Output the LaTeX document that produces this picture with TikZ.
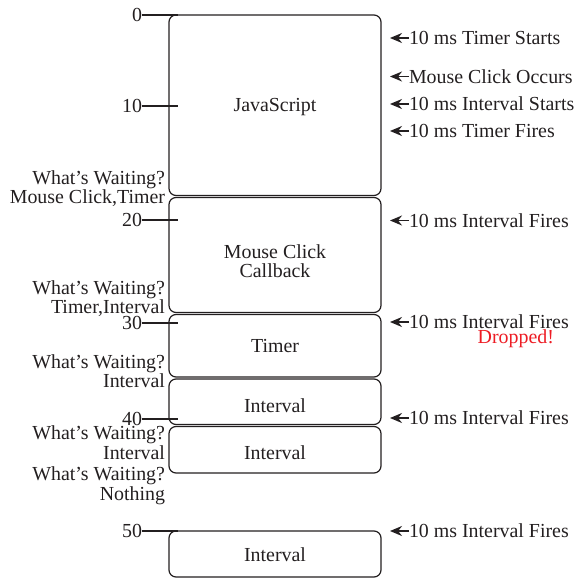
\documentclass[tikz,border=0pt]{standalone}
\usepackage{fontspec}
\setmainfont{Liberation Serif}
\usetikzlibrary{arrows.meta}
\definecolor{ink}{HTML}{231F20}
\definecolor{alert}{HTML}{ED1C24}
\begin{document}
\begin{tikzpicture}[x=1pt,y=-1pt,
  every node/.style={font=\fontsize{19.9}{19.9}\selectfont, text=ink, inner sep=0pt, outer sep=0pt},
  slot/.style={draw=ink, line width=1.2pt, rounded corners=7pt},
  tickmark/.style={draw=ink, line width=1.9pt},
  event/.style={draw=ink, line width=1.6pt, -{Stealth[length=12pt,width=10pt]}},
  waitnote/.style={anchor=base east},
  boxlabel/.style={anchor=base},
  evlabel/.style={anchor=west}]
\useasboundingbox (0,0) rectangle (576,578);

% execution slots on the single thread
\path[slot] (169,15)    rectangle (381,195.5);
\path[slot] (169,197.5) rectangle (381,312.5);
\path[slot] (169,314.5) rectangle (381,377);
\path[slot] (169,379)   rectangle (381,424.5);
\path[slot] (169,426.5) rectangle (381,473);
\path[slot] (169,531)   rectangle (381,577);

\node[boxlabel] (js)   at (275,111) {JavaScript};
\node[boxlabel] (mc1)  at (275,258) {Mouse Click};
\node[boxlabel] (mc2)  at (275,277) {Callback};
\node[boxlabel] (tm)   at (275,352) {Timer};
\node[boxlabel] (iv1)  at (275,412) {Interval};
\node[boxlabel] (iv2)  at (275,459) {Interval};
\node[boxlabel] (iv3)  at (275,561) {Interval};

% time axis ticks (ms)
\foreach \t/\y in {0/15, 10/106, 20/220, 30/323, 40/419, 50/531}{
  \node[anchor=east] (t\t) at (142,\y) {\t};
  \draw[tickmark] (t\t.east) -- ++(36,0);
}

% queue contents at each hand-over
\node[waitnote] (w1a) at (165,184.3) {What’s Waiting?};
\node[waitnote] (w1b) at (165,203)   {Mouse Click,Timer};
\node[waitnote] (w2a) at (165,294)   {What’s Waiting?};
\node[waitnote] (w2b) at (165,313.3) {Timer,Interval};
\node[waitnote] (w3a) at (165,368)   {What’s Waiting?};
\node[waitnote] (w3b) at (165,387)   {Interval};
\node[waitnote] (w4a) at (165,439.5) {What’s Waiting?};
\node[waitnote] (w4b) at (165,459.3) {Interval};
\node[waitnote] (w5a) at (165,480.5) {What’s Waiting?};
\node[waitnote] (w5b) at (165,500)   {Nothing};

% incoming events
\foreach \n/\y/\txt in {
  e1/38/{10 ms Timer Starts},
  e2/76.5/{Mouse Click Occurs},
  e3/104/{10 ms Interval Starts},
  e4/131/{10 ms Timer Fires},
  e5/220.5/{10 ms Interval Fires},
  e6/322/{10 ms Interval Fires},
  e7/418/{10 ms Interval Fires},
  e8/531/{10 ms Interval Fires}}{
  \node[evlabel] (\n) at (409,\y) {\txt};
  \coordinate (\n tip) at (390,\y);
  \draw[event] (\n.west) -- (\n tip);
}
\node[anchor=base east, text=alert] (drop) at (554,343.5) {Dropped!};
\end{tikzpicture}
\end{document}
